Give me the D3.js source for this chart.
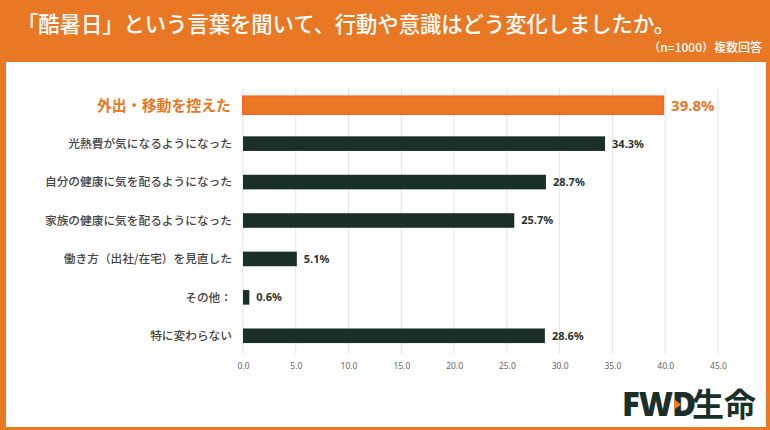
<!DOCTYPE html>
<html>
<head>
<meta charset="utf-8">
<script src="https://cdn.jsdelivr.net/npm/d3@7"></script>
<style>
  html, body { margin: 0; padding: 0; background: #fff; }
  svg { display: block; font-family: "Noto Sans CJK JP", "Noto Sans", sans-serif; }
</style>
</head>
<body>
<div id="chart"></div>
<script>
// data
const categories = [
  "外出・移動を控えた",
  "光熱費が気になるようになった",
  "自分の健康に気を配るようになった",
  "家族の健康に気を配るようになった",
  "働き方（出社/在宅）を見直した",
  "その他：",
  "特に変わらない"
];
const values = [39.8, 34.3, 28.7, 25.7, 5.1, 0.6, 28.6];
const xTicks = [0, 5, 10, 15, 20, 25, 30, 35, 40, 45];
const highlight = 0; // index of the orange bar

const titleText = "「酷暑日」という言葉を聞いて、行動や意識はどう変化しましたか。";
const noteText = "（n=1000）複数回答";

const W = 770, H = 430;
const orange = "#e97824", orangeEdge = "#f26a1f", dark = "#1b2f29";

const svg = d3.select("#chart").append("svg")
  .attr("width", W).attr("height", H);

// frame: orange header + border, white panel
svg.append("rect").attr("width", W).attr("height", H).attr("fill", orange);
svg.append("rect")
  .attr("x", 6).attr("y", 62)
  .attr("width", W - 6 - 4).attr("height", H - 62 - 3)
  .attr("fill", "#fff");

svg.append("text")
  .attr("x", 17).attr("y", 32)
  .attr("fill", "#fff")
  .attr("font-size", 21.3)
  .attr("font-weight", 500)
  .text(titleText);

svg.append("text")
  .attr("x", 762).attr("y", 52)
  .attr("text-anchor", "end")
  .attr("fill", "#fff")
  .attr("font-size", 12)
  .attr("font-weight", 500)
  .text(noteText);

// scales
const x = d3.scaleLinear().domain([0, 45]).range([243, 718]);
const y = d3.scaleBand().domain(categories).range([86, 355]).paddingInner(0.62).paddingOuter(0.31);

// grid
svg.append("g").selectAll("line")
  .data(xTicks)
  .join("line")
  .attr("x1", d => x(d)).attr("x2", d => x(d))
  .attr("y1", 88).attr("y2", 354)
  .attr("stroke", "#e3e3e3")
  .attr("stroke-width", 1);

// x axis
const xAxis = d3.axisBottom(x).tickValues(xTicks).tickFormat(d3.format(".1f")).tickSize(0).tickPadding(0);
const gX = svg.append("g").attr("transform", "translate(0,363)").call(xAxis);
gX.select(".domain").remove();
gX.selectAll("text")
  .attr("fill", "#666")
  .attr("font-size", 8.5)
  .attr("font-family", "Noto Sans, sans-serif")
  .attr("dy", "0.71em");

// bars
const bh = y.bandwidth();
svg.append("g").selectAll("rect")
  .data(values)
  .join("rect")
  .attr("x", x(0))
  .attr("y", (d, i) => y(categories[i]) + (i === highlight ? -1.5 : 0))
  .attr("width", d => x(d) - x(0))
  .attr("height", (d, i) => i === highlight ? bh + 3 : bh)
  .attr("fill", (d, i) => i === highlight ? orange : dark)
  .attr("stroke", (d, i) => i === highlight ? orangeEdge : "none")
  .attr("stroke-width", 2);

// category labels
svg.append("g").selectAll("text")
  .data(categories)
  .join("text")
  .attr("x", (d, i) => i === highlight ? 231 : 232)
  .attr("y", d => y(d) + bh / 2)
  .attr("dy", "0.36em")
  .attr("text-anchor", "end")
  .attr("fill", (d, i) => i === highlight ? orange : "#444")
  .attr("font-size", (d, i) => i === highlight ? 14.9 : 11.7)
  .attr("font-weight", (d, i) => i === highlight ? 700 : 500)
  .text(d => d);

// value labels
svg.append("g").selectAll("text")
  .data(values)
  .join("text")
  .attr("x", (d, i) => x(d) + (i === highlight ? 8 : 7))
  .attr("y", (d, i) => y(categories[i]) + bh / 2)
  .attr("dy", "0.36em")
  .attr("fill", (d, i) => i === highlight ? orange : "#2a332f")
  .attr("font-size", (d, i) => i === highlight ? 15 : 11)
  .attr("font-weight", 700)
  .attr("font-family", "Noto Sans, sans-serif")
  .text(d => d.toFixed(1) + "%");

// logo
const logo = svg.append("g").attr("transform", "translate(622,416)");
logo.append("text")
  .attr("x", 0).attr("y", 0)
  .attr("fill", dark)
  .attr("font-size", 33)
  .attr("font-weight", 900)
  .attr("font-family", "Noto Sans, sans-serif")
  .attr("letter-spacing", -1)
  .text("FWD");
logo.append("text")
  .attr("x", 70).attr("y", 0)
  .attr("fill", dark)
  .attr("font-size", 32)
  .attr("font-weight", 700)
  .text("生命");
logo.append("path")
  .attr("d", "M52,-17 L59,-11.5 L52,-6 Z")
  .attr("fill", "#f07b1f");
</script>
</body>
</html>
